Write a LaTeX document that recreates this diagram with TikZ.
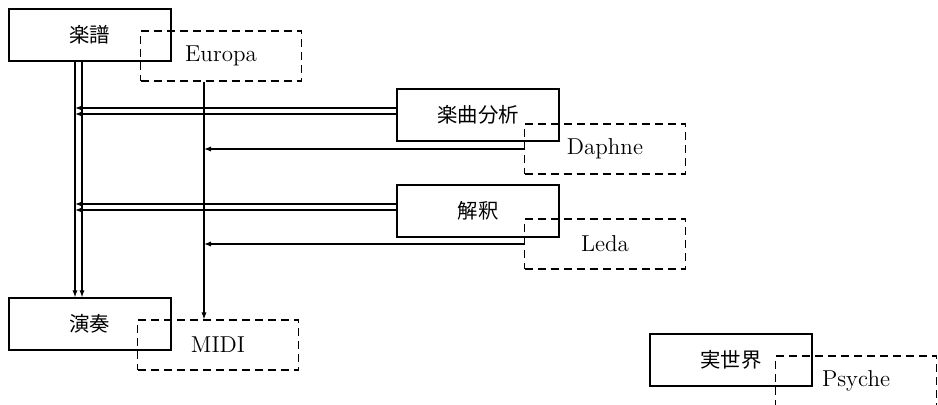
\documentclass[tikz,border=0pt]{standalone}
\usepackage{fontspec}
\newfontfamily\jp{Noto Sans CJK JP}
\usetikzlibrary{arrows.meta}
\begin{document}
\begin{tikzpicture}[x=0.5pt,y=-0.5pt,
  box/.style={draw,line width=0.7pt,minimum width=81pt,minimum height=26pt,
    inner sep=0pt,font=\fontsize{10.2pt}{12pt}\jp},
  dbox/.style={draw,line width=0.6pt,dash pattern=on 4pt off 2.5pt,
    minimum width=80.5pt,minimum height=25pt,inner sep=0pt,
    font=\fontsize{11.5pt}{13pt}\selectfont},
  arr/.style={line width=0.55pt,-{Latex[length=3.5pt,width=2.6pt]}}]
\useasboundingbox (0,0) rectangle (938,405);
\clip (0,0) rectangle (938,405);
\node[dbox] (europa) at (221,56) {Europa};
\node[dbox] (daphne) at (605,149) {Daphne};
\node[dbox] (leda) at (605,244) {Leda};
\node[dbox] (midi) at (218,345) {MIDI};
\node[dbox] (psyche) at (856,381) {Psyche};
\node[box] (score) at (90,35) {楽譜};
\node[box] (ana) at (478,115) {楽曲分析};
\node[box] (interp) at (478,211) {解釈};
\node[box] (perf) at (90,324) {演奏};
\node[box] (real) at (731,360) {実世界};
% score -> performance
\coordinate (sa) at ([xshift=-7.5pt]score.south);
\coordinate (sb) at ([xshift=-4pt]score.south);
\draw[arr] (sa) -- (sa |- perf.north);
\draw[arr] (sb) -- (sb |- perf.north);
% Europa -> MIDI
\coordinate (ea) at ([xshift=-8.5pt]europa.south);
\draw[arr] (ea) -- (ea |- midi.north);
% analysis, interpretation
\coordinate (aa) at ([yshift=3.5pt]ana.west);
\coordinate (ab) at ([yshift=0.5pt]ana.west);
\draw[arr] (aa) -- (aa -| sa);
\draw[arr] (ab) -- (ab -| sa);
\coordinate (ia) at ([yshift=3.5pt]interp.west);
\coordinate (ib) at ([yshift=0.5pt]interp.west);
\draw[arr] (ia) -- (ia -| sa);
\draw[arr] (ib) -- (ib -| sa);
\draw[arr] (daphne.west) -- (daphne.west -| ea);
\draw[arr] (leda.west) -- (leda.west -| ea);
\end{tikzpicture}
\end{document}
